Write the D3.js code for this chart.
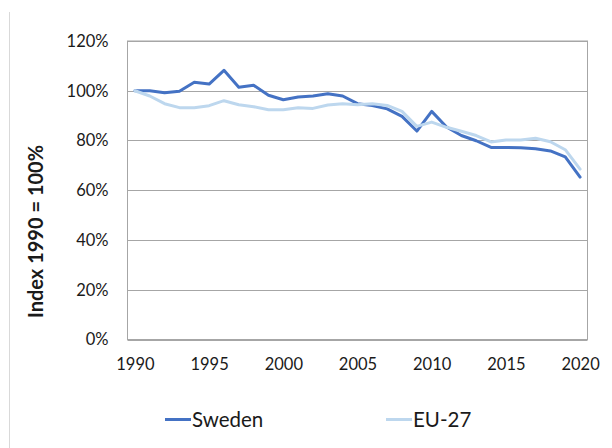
<!DOCTYPE html>
<html>
<head>
<meta charset="utf-8">
<script src="https://cdn.jsdelivr.net/npm/d3@7"></script>
<style>
  html, body { margin: 0; padding: 0; background: #fff; }
  svg { display: block; }
  text { font-family: Lato, "Open Sans", sans-serif; fill: #1a1a1a; }
</style>
</head>
<body>
<svg id="chart" width="612" height="448"></svg>
<script>
// Greenhouse gas emissions, index 1990 = 100%
const years = d3.range(1990, 2021);
const sweden = [1.000, 1.000, 0.992, 0.998, 1.034, 1.027, 1.082, 1.014, 1.022, 0.982,
                0.964, 0.975, 0.979, 0.988, 0.979, 0.948, 0.941, 0.927, 0.897, 0.838,
                0.917, 0.854, 0.820, 0.799, 0.772, 0.772, 0.771, 0.767, 0.758, 0.734,
                0.653];
const eu27 =   [1.000, 0.979, 0.948, 0.932, 0.932, 0.940, 0.960, 0.944, 0.936, 0.924,
                0.924, 0.932, 0.929, 0.943, 0.948, 0.944, 0.948, 0.941, 0.917, 0.857,
                0.874, 0.853, 0.837, 0.820, 0.794, 0.802, 0.802, 0.809, 0.795, 0.763,
                0.685];
const yTicks = [0, 0.2, 0.4, 0.6, 0.8, 1.0, 1.2];
const xLabelYears = [1990, 1995, 2000, 2005, 2010, 2015, 2020];
const seriesNames = ["Sweden", "EU-27"];
const seriesColors = ["#4472c4", "#bdd7ee"];

const svg = d3.select("#chart");
const plot = { left: 127.5, right: 587.5, top: 41, bottom: 339.5 };

// Category axis: points sit in the middle of each year's slot
const x = d3.scalePoint()
  .domain(years)
  .range([plot.left, plot.right])
  .padding(0.5);
const y = d3.scaleLinear()
  .domain([0, 1.2])
  .range([plot.bottom, plot.top]);

// faint rule at the left edge
svg.append("line")
  .attr("x1", 9.5).attr("x2", 9.5)
  .attr("y1", 12).attr("y2", 448)
  .attr("stroke", "#d9d9d9").attr("stroke-width", 1);

// horizontal gridlines
svg.append("g")
  .selectAll("line")
  .data(yTicks)
  .join("line")
  .attr("x1", plot.left).attr("x2", plot.right)
  .attr("y1", d => Math.round(y(d)) + 0.5)
  .attr("y2", d => Math.round(y(d)) + 0.5)
  .attr("stroke", "#a6a6a6").attr("stroke-width", 1);

// plot frame
svg.append("rect")
  .attr("x", plot.left).attr("y", plot.top)
  .attr("width", plot.right - plot.left)
  .attr("height", plot.bottom - plot.top)
  .attr("fill", "none")
  .attr("stroke", "#a6a6a6").attr("stroke-width", 1);

// y axis labels
const yAxis = d3.axisLeft(y)
  .tickValues(yTicks)
  .tickFormat(d3.format(".0%"))
  .tickSize(0)
  .tickPadding(19);
const gy = svg.append("g")
  .attr("transform", `translate(${plot.left},0)`)
  .call(yAxis);
gy.select(".domain").remove();
gy.selectAll("text")
  .style("font-size", "16.5px")
  .style("font-family", "Lato, sans-serif")
  .attr("fill", "#1a1a1a");

// x axis labels
const xAxis = d3.axisBottom(x)
  .tickValues(xLabelYears)
  .tickFormat(d3.format("d"))
  .tickSize(0)
  .tickPadding(19);
const gx = svg.append("g")
  .attr("transform", `translate(0,${plot.bottom})`)
  .call(xAxis);
gx.select(".domain").remove();
gx.selectAll("text")
  .style("font-size", "16.5px")
  .style("font-family", "Lato, sans-serif")
  .attr("fill", "#1a1a1a");

// y axis title
svg.append("text")
  .attr("transform", "translate(42.5,231.5) rotate(-90)")
  .attr("text-anchor", "middle")
  .style("font-size", "20px")
  .style("font-weight", "bold")
  .text("Index 1990 = 100%");

// series lines
const line = d3.line()
  .x((d, i) => x(years[i]))
  .y(d => y(d));
[sweden, eu27].forEach((vals, k) => {
  svg.append("path")
    .datum(vals)
    .attr("d", line)
    .attr("fill", "none")
    .attr("stroke", seriesColors[k])
    .attr("stroke-width", 3)
    .attr("stroke-linejoin", "round")
    .attr("stroke-linecap", "round");
});

// legend
const legendX = [165, 386];
const legend = svg.append("g");
seriesNames.forEach((name, k) => {
  legend.append("line")
    .attr("x1", legendX[k]).attr("x2", legendX[k] + 26)
    .attr("y1", 419.5).attr("y2", 419.5)
    .attr("stroke", seriesColors[k]).attr("stroke-width", 3);
  legend.append("text")
    .attr("x", legendX[k] + 27)
    .attr("y", 426.5)
    .style("font-size", "20.5px")
    .text(name);
});
</script>
</body>
</html>
